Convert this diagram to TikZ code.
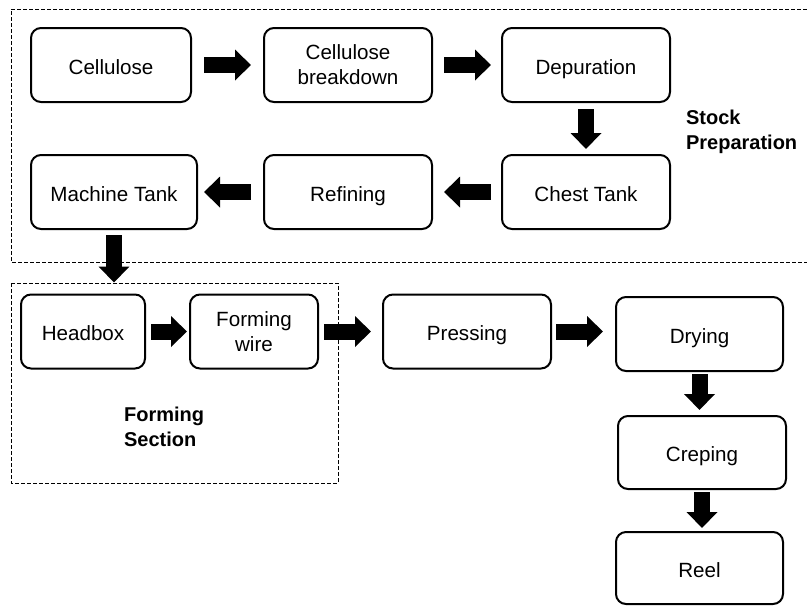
\documentclass[tikz,border=0pt]{standalone}
\usepackage{fontspec}
\setmainfont{Liberation Sans}
\usetikzlibrary{positioning,arrows.meta}

\begin{document}
\begin{tikzpicture}[x=0.5pt, y=-0.5pt,
    procbox/.style={rectangle, rounded corners=5pt, draw, line width=1pt, minimum width=84pt, minimum height=37pt, align=center, font=\fontsize{10.3}{12.5}\selectfont},
    oneline/.style={procbox, text height=9pt, text depth=0pt},
    flow/.style={line width=8pt, -{Triangle[width=15pt, length=8pt]}},
    region/.style={line width=0.5pt, dash pattern=on 2pt off 1pt},
    grouplabel/.style={align=left, font=\fontsize{10}{12.5}\selectfont\bfseries}]
    \useasboundingbox (0,0) rectangle (807,606);

    % stock preparation
    \node[oneline, minimum width=80pt] (cell) at (111,65) {Cellulose};
    \node[procbox, right=35.5pt of cell] (brk) {Cellulose\\breakdown};
    \node[oneline, right=34pt of brk] (dep) {Depuration};
    \node[oneline, below=25.5pt of dep] (chest) {Chest Tank};
    \node[oneline, left=34pt of chest] (ref) {Refining};
    \node[oneline, minimum width=83pt, left=32.5pt of ref] (mt) {Machine Tank};

    % forming and after
    \node[oneline, minimum width=62pt] (hb) at (83,331.5) {Headbox};
    \node[procbox, minimum width=64pt, right=21.5pt of hb] (fw) {Forming\\wire};
    \node[oneline, right=31.5pt of fw] (press) {Pressing};
    \node[oneline, minimum width=83.5pt, right=31.5pt of press, yshift=-1.25pt] (dry) {Drying};
    \node[oneline, minimum height=36.5pt, below=21.5pt of dry, xshift=1.25pt] (crep) {Creping};
    \node[oneline, minimum width=83.5pt, minimum height=36pt, below=20.5pt of crep, xshift=-1.25pt] (reel) {Reel};

    % dashed groups
    \draw[region] (807,9) -- (11,9) -- (11,262) -- (807,262);
    \draw[region] (11,283) rectangle (338,483);
    \node[grouplabel, anchor=west] (stocklbl) at (679,132) {Stock\\Preparation};
    \node[grouplabel, anchor=west] (formlbl) at (117,427) {Forming\\Section};

    \draw[flow, shorten <=6pt, shorten >=6pt] (cell) -- (brk);
    \draw[flow, shorten <=5.5pt, shorten >=5pt] (brk) -- (dep);
    \draw[flow, shorten <=3pt, shorten >=2.5pt] (dep) -- (chest);
    \draw[flow, shorten <=5pt, shorten >=5.5pt] (chest) -- (ref);
    \draw[flow, shorten <=6pt, shorten >=3pt] (ref) -- (mt);
    \draw[flow, shorten <=2.5pt, shorten >=5.5pt] (mt.south) -- (mt.south |- hb.north);
    \draw[flow, shorten <=2.5pt, shorten >=1pt] (hb.east) -- (hb.east -| fw.west);
    \draw[flow, shorten <=2.5pt, shorten >=5.5pt] (fw) -- (press);
    \draw[flow, shorten <=2pt, shorten >=6pt] (press.east) -- (press.east -| dry.west);
    \draw[flow, shorten <=1pt, shorten >=2.5pt] (dry.south) -- (dry.south |- crep.north);
    \draw[flow, shorten <=1pt, shorten >=1.5pt] (crep.south) -- (crep.south |- reel.north);
\end{tikzpicture}
\end{document}
